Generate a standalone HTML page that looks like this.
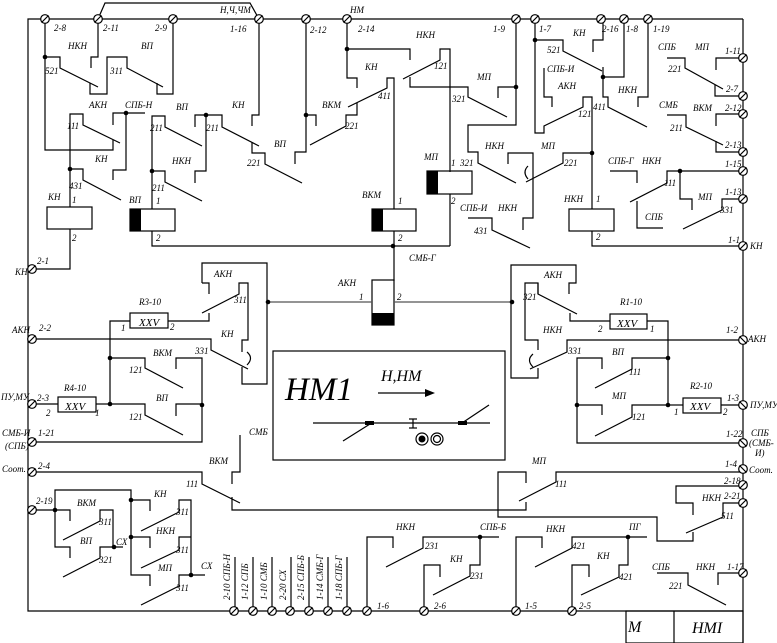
<!DOCTYPE html>
<html><head><meta charset="utf-8"><style>
html,body{margin:0;padding:0;background:#fff;}
svg{display:block;}
text{font-family:"Liberation Serif",serif;font-style:italic;font-size:9px;fill:#000;}
.b{font-size:11px;}
</style></head><body>
<svg width="777" height="643" viewBox="0 0 777 643" xmlns="http://www.w3.org/2000/svg">
<defs>
<g id="t"><circle r="4.3" fill="#fff" stroke="#000" stroke-width="1.2"/><line x1="-3.5" y1="3.5" x2="3.5" y2="-3.5" stroke="#000" stroke-width="1.2"/></g>
<g id="tr"><circle r="4.3" fill="#fff" stroke="#000" stroke-width="1.2"/><line x1="-3.5" y1="-3.5" x2="3.5" y2="3.5" stroke="#000" stroke-width="1.2"/></g>
</defs>
<g fill="none" stroke="#000" stroke-width="1.2">
<!-- frame -->
<polyline points="743,19 28,19 28,611 743,611"/>
<line x1="743" y1="19" x2="743" y2="643"/>
<polyline points="98,19 105,3 250,3 259,19"/>
<rect x="626" y="611" width="117" height="32"/>
<line x1="674" y1="611" x2="674" y2="643"/>

<!-- top-left -->
<polyline points="45,19 45,150 113,150 113,140"/>
<polyline points="45,57 60,57 60,68 98,87"/>
<polyline points="98,19 98,57 91,57 91,68"/>
<polyline points="90,83 90,94 107,94 107,57 127,57 127,68 163,87"/>
<polyline points="157,83 157,94 173,94 173,19"/>
<polyline points="70,207 70,114 83,114 83,125 120,143"/>
<polyline points="70,169 83,169 83,180 121,200"/>
<polyline points="113,125 113,113 145,113"/>
<polyline points="126,113 126,170 113,170 113,180"/>
<polyline points="152,209 152,116 165,116 165,127 202,146"/>
<polyline points="152,171 165,171 165,182 202,201"/>
<polyline points="195,127 195,115 222,115 222,127 259,146"/>
<polyline points="206,115 206,171 195,171 195,183"/>
<polyline points="259,19 259,115 252,115 252,126"/>
<polyline points="252,142 252,153 265,153 265,164 302,183"/>
<polyline points="306,19 306,152 295,152 295,164"/>
<polyline points="306,115 316,115 316,126"/>
<polyline points="310,145 346,126 346,115 357,115 357,103"/>
<polyline points="347,19 347,78 357,78 357,88"/>
<polyline points="347,49 410,49 410,60"/>
<polyline points="348,107 387,88 387,78 394,78 394,209"/>
<!-- coils left -->
<rect x="47" y="207" width="45" height="22"/>
<polyline points="70,229 70,269 33,269"/>
<rect x="130" y="209" width="45" height="22"/>
<polyline points="152,231 152,246 450,246"/>
<rect x="372" y="209" width="44" height="22"/>
<line x1="394" y1="231" x2="394" y2="281"/>
<!-- top-right -->
<polyline points="403,79 440,60 440,49 450,49 450,172"/>
<polyline points="450,194 450,246"/>
<rect x="427" y="171" width="45" height="23"/>
<polyline points="410,77 410,87 468,87 468,97 507,117"/>
<polyline points="516,19 516,125 468,125 468,152 478,152 478,163 516,183"/>
<polyline points="516,87 498,87 498,98"/>
<polyline points="508,164 508,153 533,153 533,218 523,218 523,230"/>
<polyline points="526,182 563,163 563,153 592,153"/>
<path d="M528,166 Q522,172 528,179"/>
<polyline points="468,218 492,218 492,230 530,248"/>
<polyline points="535,19 535,133 544,133 544,126 583,107 583,97 592,97 592,209"/>
<polyline points="535,40 563,40 563,51 602,71"/>
<polyline points="544,68 544,97 552,97 552,107"/>
<polyline points="603,19 603,40 593,40 593,52"/>
<polyline points="624,19 624,77 603,77 603,67"/>
<polyline points="603,77 603,97 608,97 608,107 647,127"/>
<polyline points="648,19 648,97 638,97 638,107"/>
<polyline points="667,58 685,58 685,68 723,89"/>
<polyline points="743,58 716,58 716,70"/>
<polyline points="743,96 715,96 715,85"/>
<polyline points="667,115 686,115 686,127 723,145"/>
<polyline points="743,114 716,114 716,126"/>
<polyline points="743,152 716,152 716,141"/>
<polyline points="610,171 637,171 637,183"/>
<polyline points="743,171 667,171 667,183 630,202"/>
<polyline points="680,171 680,199 692,199 692,210"/>
<polyline points="637,201 637,228 663,228"/>
<polyline points="743,199 722,199 722,210 683,229"/>
<rect x="569" y="209" width="45" height="22"/>
<polyline points="592,231 592,246 743,246"/>
<!-- center coil -->
<rect x="372" y="280" width="22" height="45"/>
<line x1="268" y1="302" x2="372" y2="302" stroke="#555"/>
<line x1="394" y1="302" x2="512" y2="302" stroke="#555"/>
<!-- left mid -->
<polyline points="202,283 202,263 267,263 267,384 242,384 242,367"/>
<polyline points="202,283 209,283 209,294"/>
<polyline points="202,313 239,294 239,283 248,283 248,340 242,340 242,352"/>
<rect x="130" y="313" width="38" height="15"/>
<polyline points="168,321 209,321 209,313"/>
<polyline points="130,321 110,321 110,404"/>
<polyline points="33,339 211,339 211,350 248,369"/>
<path d="M247,352 Q254,358 247,365"/>
<polyline points="110,358 145,358 145,368 183,388"/>
<polyline points="176,369 176,358 202,358 202,442 33,442"/>
<polyline points="110,404 145,404 145,415 183,435"/>
<polyline points="176,416 176,404 202,404"/>
<rect x="58" y="397" width="38" height="15"/>
<line x1="33" y1="404" x2="58" y2="404"/>
<line x1="96" y1="404" x2="110" y2="404"/>
<!-- right mid -->
<polyline points="538,294 538,283 525,283 525,340 538,340 538,350"/>
<polyline points="511,302 511,265 576,265 576,283 569,283 569,294"/>
<polyline points="511,302 511,378 538,378 538,368"/>
<polyline points="538,283 538,294 577,314"/>
<path d="M533,354 Q526,360 533,367"/>
<polyline points="530,369 567,352 567,340 743,340"/>
<polyline points="570,313 570,321 610,321"/>
<rect x="610" y="314" width="37" height="15"/>
<polyline points="647,321 668,321 668,405"/>
<polyline points="668,358 632,358 632,369 595,388"/>
<polyline points="602,369 602,358 577,358 577,443 743,443"/>
<polyline points="577,405 602,405 602,415"/>
<polyline points="668,405 632,405 632,417 595,436"/>
<rect x="683" y="398" width="38" height="15"/>
<line x1="668" y1="405" x2="683" y2="405"/>
<line x1="721" y1="405" x2="743" y2="405"/>
<!-- HM1 box -->
<rect x="273" y="351" width="232" height="109"/>
<line x1="378" y1="393" x2="425" y2="393"/>
<line x1="313" y1="423" x2="490" y2="423"/>
<line x1="343" y1="441" x2="370" y2="424"/>
<line x1="462" y1="423" x2="489" y2="405"/>
<line x1="413" y1="419" x2="413" y2="428"/><line x1="409" y1="419" x2="417" y2="419"/><line x1="409" y1="428" x2="417" y2="428"/>
<circle cx="422" cy="439" r="6"/><circle cx="437" cy="439" r="6"/><circle cx="437" cy="439" r="3.5"/>
<!-- bottom-left region -->
<polyline points="240,435 240,472 232,472 232,484"/>
<polyline points="33,472 202,472 202,484 240,503"/>
<polyline points="232,497 232,510 526,510 526,502"/>
<polyline points="526,483 526,472 498,472 498,517 657,517 657,541 693,541 693,532"/>
<polyline points="519,501 556,482 556,472 743,472"/>
<polyline points="743,486 676,486 676,503 693,503 693,515"/>
<polyline points="743,503 723,503 723,517 686,533"/>
<polyline points="33,510 70,510 70,521"/>
<polyline points="55,510 55,490 131,490 131,575 150,575 150,586"/>
<polyline points="55,510 55,547 70,547 70,558"/>
<polyline points="131,500 150,500 150,511"/>
<polyline points="131,537 150,537 150,548"/>
<polyline points="63,540 100,521 100,510 113,510 113,547 123,547"/>
<polyline points="63,577 100,558 100,547 113,547"/>
<polyline points="141,531 179,512 179,500 191,500 191,575 205,575"/>
<polyline points="141,568 179,550 179,537 191,537"/>
<polyline points="141,605 179,586 179,575 191,575"/>
<line x1="235" y1="557" x2="235" y2="611"/><line x1="253" y1="557" x2="253" y2="611"/><line x1="272" y1="557" x2="272" y2="611"/><line x1="291" y1="557" x2="291" y2="611"/><line x1="309" y1="557" x2="309" y2="611"/><line x1="328" y1="557" x2="328" y2="611"/><line x1="347" y1="557" x2="347" y2="611"/>
<!-- bottom-right -->
<polyline points="367,611 367,537 393,537 393,548"/>
<polyline points="386,567 423,548 423,537 499,537"/>
<polyline points="480,537 480,565 470,565 470,576 433,595"/>
<polyline points="424,611 424,565 440,565 440,577"/>
<polyline points="516,611 516,537 542,537 542,548"/>
<polyline points="535,567 572,548 572,537 647,537"/>
<polyline points="628,537 628,565 619,565 619,577 581,595"/>
<polyline points="572,611 572,565 589,565 589,577"/>
<polyline points="657,573 688,573 688,585 726,605"/>
<polyline points="743,573 718,573 718,585"/>
</g>
<!-- black fills -->
<g fill="#000">
<rect x="130" y="209" width="11" height="22"/>
<rect x="372" y="209" width="11" height="22"/>
<rect x="427" y="171" width="11" height="23"/>
<rect x="372" y="313" width="22" height="12"/>
<rect x="365" y="421" width="9" height="4"/>
<rect x="458" y="421" width="9" height="4"/>
<circle cx="422" cy="439" r="3.5"/>
<path d="M425,389 L435,393 L425,397 Z"/>
<circle cx="45" cy="57" r="2.3"/><circle cx="70" cy="169" r="2.3"/><circle cx="126" cy="113" r="2.3"/>
<circle cx="152" cy="171" r="2.3"/><circle cx="206" cy="115" r="2.3"/><circle cx="306" cy="115" r="2.3"/>
<circle cx="347" cy="49" r="2.3"/><circle cx="393" cy="246" r="2.3"/><circle cx="516" cy="87" r="2.3"/>
<circle cx="535" cy="40" r="2.3"/><circle cx="603" cy="77" r="2.3"/><circle cx="592" cy="153" r="2.3"/>
<circle cx="680" cy="171" r="2.3"/><circle cx="268" cy="302" r="2.3"/><circle cx="512" cy="302" r="2.3"/>
<circle cx="110" cy="358" r="2.3"/><circle cx="110" cy="404" r="2.3"/><circle cx="202" cy="405" r="2.3"/>
<circle cx="668" cy="358" r="2.3"/><circle cx="668" cy="405" r="2.3"/><circle cx="577" cy="405" r="2.3"/>
<circle cx="55" cy="510" r="2.3"/><circle cx="131" cy="500" r="2.3"/><circle cx="131" cy="537" r="2.3"/>
<circle cx="114" cy="547" r="2.3"/><circle cx="191" cy="575" r="2.3"/><circle cx="480" cy="537" r="2.3"/>
<circle cx="628" cy="537" r="2.3"/>
</g>
<!-- terminals -->
<use href="#t" x="45" y="19"/><use href="#t" x="98" y="19"/><use href="#t" x="173" y="19"/><use href="#t" x="259" y="19"/>
<use href="#t" x="306" y="19"/><use href="#t" x="347" y="19"/><use href="#t" x="516" y="19"/><use href="#t" x="535" y="19"/>
<use href="#t" x="601" y="19"/><use href="#t" x="624" y="19"/><use href="#t" x="648" y="19"/>
<use href="#t" x="743" y="58"/><use href="#t" x="743" y="96"/><use href="#t" x="743" y="114"/><use href="#t" x="743" y="152"/>
<use href="#t" x="743" y="171"/><use href="#t" x="743" y="199"/><use href="#t" x="743" y="246"/>
<use href="#tr" x="743" y="340"/><use href="#tr" x="743" y="405"/><use href="#tr" x="743" y="443"/><use href="#tr" x="743" y="469"/>
<use href="#t" x="743" y="485"/><use href="#t" x="743" y="503"/><use href="#t" x="743" y="573"/>
<use href="#t" x="32" y="269"/><use href="#t" x="32" y="339"/><use href="#t" x="32" y="404"/><use href="#t" x="32" y="442"/>
<use href="#t" x="32" y="472"/><use href="#t" x="32" y="510"/>
<use href="#t" x="234" y="611"/><use href="#t" x="253" y="611"/><use href="#t" x="272" y="611"/><use href="#t" x="290" y="611"/>
<use href="#t" x="309" y="611"/><use href="#t" x="328" y="611"/><use href="#t" x="347" y="611"/>
<use href="#t" x="367" y="611"/><use href="#t" x="424" y="611"/><use href="#t" x="516" y="611"/><use href="#t" x="572" y="611"/>

<!-- labels -->
<text x="54" y="31">2-8</text><text x="103" y="31">2-11</text><text x="155" y="31">2-9</text>
<text x="220" y="13">Н,Ч,ЧМ</text><text x="230" y="32">1-16</text><text x="310" y="33">2-12</text>
<text x="350" y="13">НМ</text><text x="358" y="32">2-14</text><text x="493" y="32">1-9</text><text x="539" y="32">1-7</text>
<text x="602" y="32">2-16</text><text x="626" y="32">1-8</text><text x="653" y="32">1-19</text>
<text x="68" y="49">НКН</text><text x="141" y="49">ВП</text><text x="45" y="74">521</text><text x="110" y="74">311</text>
<text x="89" y="108">АКН</text><text x="125" y="108">СПБ-Н</text><text x="176" y="110">ВП</text><text x="232" y="108">КН</text>
<text x="322" y="108">ВКМ</text><text x="365" y="70">КН</text><text x="378" y="99">411</text>
<text x="67" y="129">111</text><text x="150" y="131">211</text><text x="206" y="131">211</text><text x="345" y="129">221</text>
<text x="95" y="162">КН</text><text x="172" y="164">НКН</text><text x="274" y="147">ВП</text><text x="247" y="166">221</text>
<text x="69" y="189">431</text><text x="152" y="191">211</text><text x="48" y="200">КН</text><text x="129" y="203">ВП</text>
<text x="72" y="203">1</text><text x="72" y="241">2</text><text x="156" y="204">1</text><text x="156" y="241">2</text>
<text x="362" y="198">ВКМ</text><text x="398" y="204">1</text><text x="398" y="241">2</text>
<text x="416" y="38">НКН</text><text x="434" y="69">121</text><text x="477" y="80">МП</text><text x="452" y="102">321</text>
<text x="424" y="160">МП</text><text x="451" y="166">1</text><text x="460" y="166">321</text><text x="451" y="204">2</text>
<text x="485" y="149">НКН</text><text x="541" y="149">МП</text><text x="564" y="166">221</text>
<text x="460" y="211">СПБ-И</text><text x="498" y="211">НКН</text><text x="474" y="234">431</text>
<text x="573" y="36">КН</text><text x="547" y="53">521</text><text x="547" y="72">СПБ-И</text><text x="558" y="89">АКН</text>
<text x="578" y="117">121</text><text x="593" y="110">411</text><text x="618" y="93">НКН</text>
<text x="658" y="50">СПБ</text><text x="695" y="50">МП</text><text x="725" y="54">1-11</text><text x="668" y="72">221</text><text x="726" y="92">2-7</text>
<text x="659" y="108">СМБ</text><text x="693" y="111">ВКМ</text><text x="725" y="111">2-12</text><text x="670" y="131">211</text><text x="725" y="148">2-13</text>
<text x="608" y="164">СПБ-Г</text><text x="642" y="164">НКН</text><text x="725" y="167">1-15</text><text x="664" y="186">111</text>
<text x="698" y="200">МП</text><text x="725" y="195">1-13</text><text x="720" y="213">331</text><text x="645" y="220">СПБ</text>
<text x="564" y="202">НКН</text><text x="596" y="202">1</text><text x="596" y="240">2</text>
<text x="728" y="243">1-1</text><text x="750" y="249">КН</text>
<text x="409" y="261">СМБ-Г</text>
<text x="37" y="264">2-1</text><text x="15" y="275">КН</text>
<text x="214" y="277">АКН</text><text x="234" y="303">311</text><text x="139" y="305">R3-10</text>
<text x="121" y="331">1</text><text x="170" y="330">2</text><text x="221" y="337">КН</text><text x="195" y="354">331</text>
<text x="338" y="286">АКН</text><text x="359" y="300">1</text><text x="397" y="300">2</text>
<text x="12" y="333">АКН</text><text x="39" y="331">2-2</text>
<text x="153" y="356">ВКМ</text><text x="129" y="373">121</text><text x="156" y="401">ВП</text><text x="129" y="420">121</text>
<text x="64" y="391">R4-10</text><text x="46" y="416">2</text><text x="95" y="416">1</text>
<text x="1" y="400">ПУ,МУ</text><text x="37" y="401">2-3</text>
<text x="2" y="436">СМБ-И</text><text x="5" y="440" dy="0"> </text><text x="5" y="439"></text><text x="5" y="439"> </text>
<text x="5" y="439"> </text>
<text x="5" y="440"></text>
<text x="5" y="440"> </text>
<text x="5" y="440"></text>
<text x="6" y="439"> </text>
<text x="6" y="440"> </text>
<text x="5" y="441"></text>
<text x="5" y="441"> </text>
<text x="5" y="441"></text>
<text x="5" y="441"></text>
<text x="5" y="441"></text>
<text x="5" y="449">(СПБ)</text><text x="38" y="436">1-21</text>
<text x="249" y="435">СМБ</text>
<text x="544" y="278">АКН</text><text x="523" y="300">321</text><text x="543" y="333">НКН</text><text x="568" y="354">331</text>
<text x="620" y="305">R1-10</text><text x="598" y="332">2</text><text x="650" y="332">1</text>
<text x="726" y="333">1-2</text><text x="748" y="342">АКН</text>
<text x="612" y="355">ВП</text><text x="629" y="375">111</text><text x="612" y="399">МП</text><text x="632" y="420">121</text>
<text x="690" y="389">R2-10</text><text x="674" y="415">1</text><text x="723" y="415">2</text>
<text x="727" y="401">1-3</text><text x="750" y="408">ПУ,МУ</text>
<text x="726" y="437">1-22</text><text x="751" y="436">СПБ</text><text x="749" y="446">(СМБ-</text><text x="755" y="456">И)</text>
<text x="2" y="472">Соот.</text><text x="38" y="469">2-4</text><text x="209" y="464">ВКМ</text><text x="186" y="487">111</text>
<text x="532" y="464">МП</text><text x="555" y="487">111</text><text x="725" y="467">1-4</text><text x="749" y="473">Соот.</text>
<text x="724" y="484">2-18</text><text x="702" y="501">НКН</text><text x="724" y="499">2-21</text><text x="721" y="519">511</text>
<text x="36" y="504">2-19</text><text x="77" y="506">ВКМ</text><text x="99" y="525">311</text><text x="80" y="544">ВП</text>
<text x="116" y="545">СХ</text><text x="99" y="563">321</text>
<text x="154" y="497">КН</text><text x="176" y="515">311</text><text x="156" y="534">НКН</text><text x="176" y="553">311</text>
<text x="158" y="571">МП</text><text x="201" y="569">СХ</text><text x="176" y="591">311</text>
<text x="396" y="530">НКН</text><text x="480" y="530">СПБ-Б</text><text x="425" y="549">231</text>
<text x="450" y="562">КН</text><text x="470" y="579">231</text>
<text x="546" y="532">НКН</text><text x="629" y="530">ПГ</text><text x="572" y="549">421</text>
<text x="597" y="559">КН</text><text x="619" y="580">421</text>
<text x="652" y="570">СПБ</text><text x="696" y="570">НКН</text><text x="727" y="570">1-17</text><text x="669" y="589">221</text>
<text x="377" y="609">1-6</text><text x="434" y="609">2-6</text><text x="525" y="609">1-5</text><text x="579" y="609">2-5</text>
<g>
<text transform="translate(230,600) rotate(-90)">2-10  СПБ-Н</text>
<text transform="translate(248,600) rotate(-90)">1-12  СПБ</text>
<text transform="translate(267,600) rotate(-90)">1-10  СМБ</text>
<text transform="translate(286,600) rotate(-90)">2-20  СХ</text>
<text transform="translate(304,600) rotate(-90)">2-15  СПБ-Б</text>
<text transform="translate(323,600) rotate(-90)">1-14  СМБ-Г</text>
<text transform="translate(342,600) rotate(-90)">1-18  СПБ-Г</text>
</g>
<text x="139" y="326" class="b">XXV</text><text x="617" y="327" class="b">XXV</text>
<text x="65" y="410" class="b">XXV</text><text x="690" y="410" class="b">XXV</text>
<text x="285" y="400" style="font-size:33px">НМ1</text>
<text x="381" y="381" style="font-size:16px">Н,НМ</text>
<text x="628" y="632" style="font-size:16px">М</text>
<text x="692" y="633" style="font-size:16px">НМI</text>
</svg>
</body></html>
